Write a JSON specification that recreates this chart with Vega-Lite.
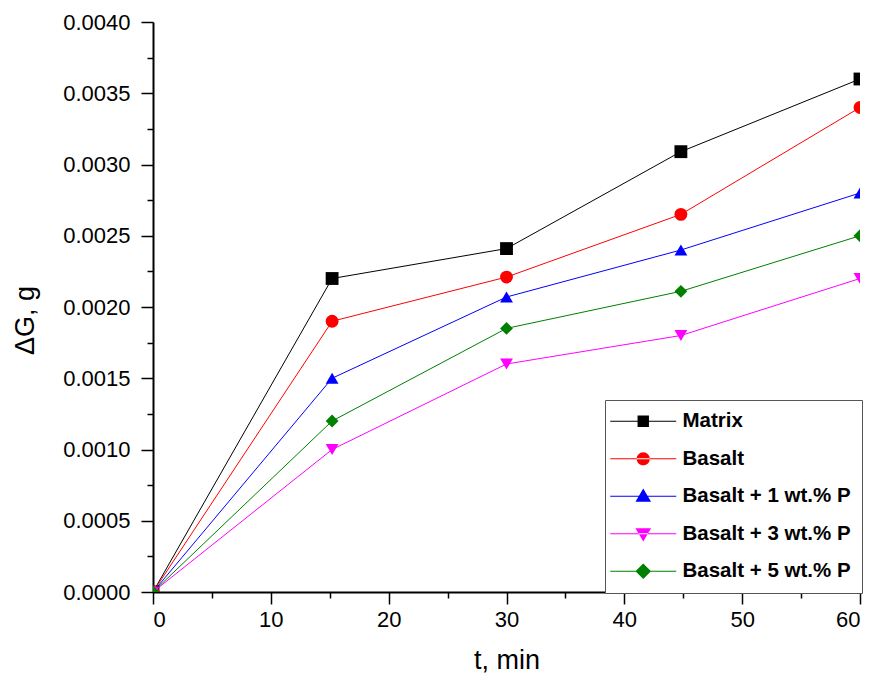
{
  "$schema": "https://vega.github.io/schema/vega-lite/v6.json",
  "width": 707,
  "height": 570,
  "autosize": "none",
  "padding": {"left": 153, "top": 22, "right": 14, "bottom": 89},
  "background": "white",
  "config": {"view": {"stroke": null}, "font": "Liberation Sans"},
  "data": {
    "values": [
      {"series": "Matrix", "t": 0, "g": 0},
      {"series": "Matrix", "t": 15.2, "g": 0.0022},
      {"series": "Matrix", "t": 30, "g": 0.00241},
      {"series": "Matrix", "t": 44.8, "g": 0.00309},
      {"series": "Matrix", "t": 60, "g": 0.0036},
      {"series": "Basalt", "t": 0, "g": 0},
      {"series": "Basalt", "t": 15.2, "g": 0.0019},
      {"series": "Basalt", "t": 30, "g": 0.00221},
      {"series": "Basalt", "t": 44.8, "g": 0.00265},
      {"series": "Basalt", "t": 60, "g": 0.0034},
      {"series": "Basalt + 1 wt.% P", "t": 0, "g": 0},
      {"series": "Basalt + 1 wt.% P", "t": 15.2, "g": 0.0015},
      {"series": "Basalt + 1 wt.% P", "t": 30, "g": 0.00207},
      {"series": "Basalt + 1 wt.% P", "t": 44.8, "g": 0.0024},
      {"series": "Basalt + 1 wt.% P", "t": 60, "g": 0.0028},
      {"series": "Basalt + 3 wt.% P", "t": 0, "g": 0},
      {"series": "Basalt + 3 wt.% P", "t": 15.2, "g": 0.001},
      {"series": "Basalt + 3 wt.% P", "t": 30, "g": 0.0016},
      {"series": "Basalt + 3 wt.% P", "t": 44.8, "g": 0.0018},
      {"series": "Basalt + 3 wt.% P", "t": 60, "g": 0.0022},
      {"series": "Basalt + 5 wt.% P", "t": 0, "g": 0},
      {"series": "Basalt + 5 wt.% P", "t": 15.2, "g": 0.0012},
      {"series": "Basalt + 5 wt.% P", "t": 30, "g": 0.00185},
      {"series": "Basalt + 5 wt.% P", "t": 44.8, "g": 0.00211},
      {"series": "Basalt + 5 wt.% P", "t": 60, "g": 0.0025}
    ]
  },
  "resolve": {"axis": {"x": "independent", "y": "independent"}, "scale": {"shape": "independent", "color": "independent"}},
  "layer": [
    {
      "mark": {"type": "line", "strokeWidth": 1, "clip": true},
      "encoding": {
        "x": {
          "field": "t", "type": "quantitative",
          "scale": {"domain": [0, 60], "nice": false},
          "axis": {
            "orient": "bottom", "title": null, "labels": false, "domain": false, "grid": false,
            "values": [5, 15, 25, 35, 45, 55],
            "tickSize": 6, "tickColor": "black", "tickWidth": 1.5
          }
        },
        "y": {
          "field": "g", "type": "quantitative",
          "scale": {"domain": [0, 0.004], "nice": false},
          "axis": {
            "orient": "left", "title": null, "labels": false, "domain": false, "grid": false,
            "values": [0.00025, 0.00075, 0.00125, 0.00175, 0.00225, 0.00275, 0.00325, 0.00375],
            "tickSize": 6, "tickColor": "black", "tickWidth": 1.5
          }
        },
        "color": {
          "field": "series", "type": "nominal",
          "scale": {
            "domain": ["Matrix", "Basalt", "Basalt + 1 wt.% P", "Basalt + 3 wt.% P", "Basalt + 5 wt.% P"],
            "range": ["#000000", "#ff0000", "#0000ff", "#ff00ff", "#008000"]
          },
          "legend": null
        }
      }
    },
    {
      "mark": {"type": "point", "filled": true, "opacity": 1, "size": 165, "clip": true},
      "encoding": {
        "x": {
          "field": "t", "type": "quantitative",
          "axis": {
            "orient": "bottom",
            "title": "t, min", "titleFontSize": 27, "titleFontWeight": "normal", "titleColor": "black", "titlePadding": 17,
            "values": [0, 10, 20, 30, 40, 50, 60],
            "labelFontSize": 22, "labelColor": "black", "labelPadding": 5,
            "tickSize": 12, "tickColor": "black", "tickWidth": 1.5,
            "domainColor": "black", "domainWidth": 2,
            "grid": false
          }
        },
        "y": {
          "field": "g", "type": "quantitative",
          "axis": {
            "orient": "left",
            "title": "ΔG, g", "titleFontSize": 27, "titleFontWeight": "normal", "titleColor": "black", "titlePadding": 23,
            "titleY": 298,
            "values": [0, 0.0005, 0.001, 0.0015, 0.002, 0.0025, 0.003, 0.0035, 0.004],
            "format": ".4f",
            "labelFontSize": 22, "labelColor": "black", "labelPadding": 11,
            "tickSize": 12, "tickColor": "black", "tickWidth": 1.5,
            "domainColor": "black", "domainWidth": 2,
            "grid": false
          }
        },
        "color": {
          "field": "series", "type": "nominal",
          "scale": {
            "domain": ["Matrix", "Basalt", "Basalt + 1 wt.% P", "Basalt + 3 wt.% P", "Basalt + 5 wt.% P"],
            "range": ["#000000", "#ff0000", "#0000ff", "#ff00ff", "#008000"]
          },
          "legend": null
        },
        "shape": {
          "field": "series", "type": "nominal",
          "scale": {
            "domain": ["Matrix", "Basalt", "Basalt + 1 wt.% P", "Basalt + 3 wt.% P", "Basalt + 5 wt.% P"],
            "range": ["square", "circle", "triangle-up", "triangle-down", "diamond"]
          },
          "legend": null
        }
      }
    },
    {
      "mark": {"type": "point", "filled": true, "opacity": 0, "size": 140},
      "encoding": {
        "x": {"field": "t", "type": "quantitative", "axis": null},
        "y": {"field": "g", "type": "quantitative", "axis": null},
        "color": {
          "field": "series", "type": "nominal",
          "scale": {
            "domain": ["Matrix", "Basalt", "Basalt + 1 wt.% P", "Basalt + 3 wt.% P", "Basalt + 5 wt.% P"],
            "range": ["#000000", "#ff0000", "#0000ff", "#ff00ff", "#008000"]
          },
          "legend": {
            "title": null,
            "orient": "none", "legendX": 452, "legendY": 378,
            "strokeColor": "#555555", "fillColor": "white",
            "padding": 11,
            "labelFontSize": 20.5, "labelFontWeight": "bold", "labelColor": "black",
            "symbolSize": 144, "symbolStrokeWidth": 0, "symbolOpacity": 1,
            "rowPadding": 16.5, "labelOffset": 29, "symbolOffset": 17,
            "labelLimit": 300
          }
        },
        "shape": {
          "field": "series", "type": "nominal",
          "scale": {
            "domain": ["Matrix", "Basalt", "Basalt + 1 wt.% P", "Basalt + 3 wt.% P", "Basalt + 5 wt.% P"],
            "range": [
              "M-5.5,-0.09H5.5V0.09H-5.5Z M-0.95,-0.95H0.95V0.95H-0.95Z",
              "M-5.5,-0.09H5.5V0.09H-5.5Z M-1.1,0A1.1,1.1 0 1,0 1.1,0A1.1,1.1 0 1,0 -1.1,0Z",
              "M-5.5,-0.09H5.5V0.09H-5.5Z M0,-1.3L1.3,0.9H-1.3Z",
              "M-5.5,-0.09H5.5V0.09H-5.5Z M0,1.3L1.3,-0.9H-1.3Z",
              "M-5.5,-0.09H5.5V0.09H-5.5Z M0,-1.3L1.3,0L0,1.3L-1.3,0Z"
            ]
          },
          "legend": {
            "title": null,
            "orient": "none", "legendX": 452, "legendY": 378,
            "strokeColor": "#555555", "fillColor": "white",
            "padding": 11,
            "labelFontSize": 20.5, "labelFontWeight": "bold", "labelColor": "black",
            "symbolSize": 144, "symbolStrokeWidth": 0, "symbolOpacity": 1,
            "rowPadding": 16.5, "labelOffset": 29, "symbolOffset": 17,
            "labelLimit": 300
          }
        }
      }
    }
  ]
}
